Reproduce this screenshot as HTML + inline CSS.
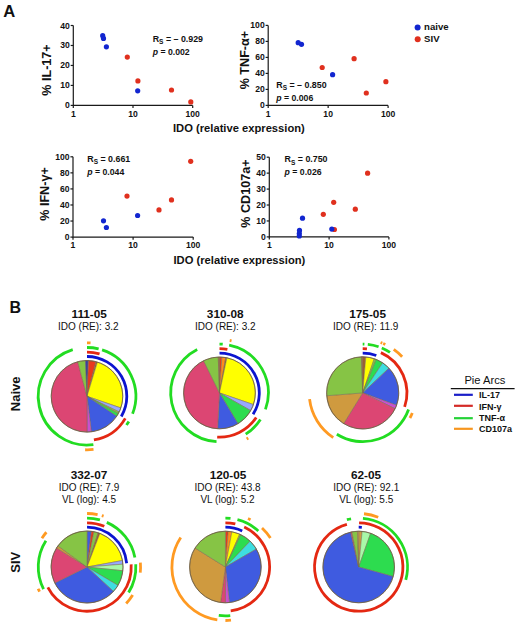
<!DOCTYPE html>
<html><head><meta charset="utf-8"><style>
html,body{margin:0;padding:0;background:#fff;}
svg{display:block;font-family:"Liberation Sans", sans-serif;}
</style></head><body>
<svg width="520" height="627" viewBox="0 0 520 627">
<rect width="520" height="627" fill="#fff"/>
<text x="3.3" y="16.8" font-size="16.6" font-weight="bold" text-anchor="start" fill="#111" >A</text>
<path d="M73.3,25.5 V105.4 H192.7" fill="none" stroke="#1a1a1a" stroke-width="1.2"/>
<line x1="70.7" y1="105.40" x2="73.3" y2="105.40" stroke="#1a1a1a" stroke-width="1.2"/>
<text x="69.8" y="108.4" font-size="8.6" font-weight="bold" text-anchor="end" fill="#111" >0</text>
<line x1="70.7" y1="85.43" x2="73.3" y2="85.43" stroke="#1a1a1a" stroke-width="1.2"/>
<text x="69.8" y="88.42500000000001" font-size="8.6" font-weight="bold" text-anchor="end" fill="#111" >10</text>
<line x1="70.7" y1="65.45" x2="73.3" y2="65.45" stroke="#1a1a1a" stroke-width="1.2"/>
<text x="69.8" y="68.45" font-size="8.6" font-weight="bold" text-anchor="end" fill="#111" >20</text>
<line x1="70.7" y1="45.48" x2="73.3" y2="45.48" stroke="#1a1a1a" stroke-width="1.2"/>
<text x="69.8" y="48.475" font-size="8.6" font-weight="bold" text-anchor="end" fill="#111" >30</text>
<line x1="70.7" y1="25.50" x2="73.3" y2="25.50" stroke="#1a1a1a" stroke-width="1.2"/>
<text x="69.8" y="28.5" font-size="8.6" font-weight="bold" text-anchor="end" fill="#111" >40</text>
<line x1="73.30" y1="105.4" x2="73.30" y2="108.0" stroke="#1a1a1a" stroke-width="1.2"/>
<text x="73.3" y="116.5" font-size="8.6" font-weight="bold" text-anchor="middle" fill="#111" >1</text>
<line x1="133.00" y1="105.4" x2="133.00" y2="108.0" stroke="#1a1a1a" stroke-width="1.2"/>
<text x="133.0" y="116.5" font-size="8.6" font-weight="bold" text-anchor="middle" fill="#111" >10</text>
<line x1="192.70" y1="105.4" x2="192.70" y2="108.0" stroke="#1a1a1a" stroke-width="1.2"/>
<text x="192.7" y="116.5" font-size="8.6" font-weight="bold" text-anchor="middle" fill="#111" >100</text>
<text x="50.6" y="70" font-size="12.6" font-weight="bold" text-anchor="middle" fill="#111" transform="rotate(-90 50.6 70)">% IL-17+</text>
<circle cx="127.3" cy="57.1" r="2.6" fill="#e0301e"/>
<circle cx="137.9" cy="80.9" r="2.6" fill="#e0301e"/>
<circle cx="171.5" cy="90" r="2.6" fill="#e0301e"/>
<circle cx="190.8" cy="101.9" r="2.6" fill="#e0301e"/>
<circle cx="102.7" cy="35.7" r="2.6" fill="#1226d0"/>
<circle cx="103.5" cy="38.4" r="2.6" fill="#1226d0"/>
<circle cx="106.4" cy="46.8" r="2.6" fill="#1226d0"/>
<circle cx="137.7" cy="90.8" r="2.6" fill="#1226d0"/>
<text x="152.7" y="41.6" font-size="8.85" font-weight="bold" fill="#111">R<tspan font-size="6.5" dy="2.2">S</tspan><tspan dy="-2.2"> = – 0.929</tspan></text>
<text x="152.7" y="54.7" font-size="8.7" font-weight="bold" fill="#111"><tspan font-style="italic">p</tspan> = 0.002</text>
<path d="M268.2,25.4 V105.4 H388.1" fill="none" stroke="#1a1a1a" stroke-width="1.2"/>
<line x1="265.59999999999997" y1="105.40" x2="268.2" y2="105.40" stroke="#1a1a1a" stroke-width="1.2"/>
<text x="264.7" y="108.4" font-size="8.6" font-weight="bold" text-anchor="end" fill="#111" >0</text>
<line x1="265.59999999999997" y1="89.40" x2="268.2" y2="89.40" stroke="#1a1a1a" stroke-width="1.2"/>
<text x="264.7" y="92.4" font-size="8.6" font-weight="bold" text-anchor="end" fill="#111" >20</text>
<line x1="265.59999999999997" y1="73.40" x2="268.2" y2="73.40" stroke="#1a1a1a" stroke-width="1.2"/>
<text x="264.7" y="76.4" font-size="8.6" font-weight="bold" text-anchor="end" fill="#111" >40</text>
<line x1="265.59999999999997" y1="57.40" x2="268.2" y2="57.40" stroke="#1a1a1a" stroke-width="1.2"/>
<text x="264.7" y="60.400000000000006" font-size="8.6" font-weight="bold" text-anchor="end" fill="#111" >60</text>
<line x1="265.59999999999997" y1="41.40" x2="268.2" y2="41.40" stroke="#1a1a1a" stroke-width="1.2"/>
<text x="264.7" y="44.400000000000006" font-size="8.6" font-weight="bold" text-anchor="end" fill="#111" >80</text>
<line x1="265.59999999999997" y1="25.40" x2="268.2" y2="25.40" stroke="#1a1a1a" stroke-width="1.2"/>
<text x="264.7" y="28.400000000000006" font-size="8.6" font-weight="bold" text-anchor="end" fill="#111" >100</text>
<line x1="268.20" y1="105.4" x2="268.20" y2="108.0" stroke="#1a1a1a" stroke-width="1.2"/>
<text x="268.2" y="116.5" font-size="8.6" font-weight="bold" text-anchor="middle" fill="#111" >1</text>
<line x1="328.15" y1="105.4" x2="328.15" y2="108.0" stroke="#1a1a1a" stroke-width="1.2"/>
<text x="328.15" y="116.5" font-size="8.6" font-weight="bold" text-anchor="middle" fill="#111" >10</text>
<line x1="388.10" y1="105.4" x2="388.10" y2="108.0" stroke="#1a1a1a" stroke-width="1.2"/>
<text x="388.1" y="116.5" font-size="8.6" font-weight="bold" text-anchor="middle" fill="#111" >100</text>
<text x="248.8" y="60.1" font-size="12.6" font-weight="bold" text-anchor="middle" fill="#111" transform="rotate(-90 248.8 60.1)">% TNF-α+</text>
<circle cx="322.2" cy="67.5" r="2.6" fill="#e0301e"/>
<circle cx="354.1" cy="58.7" r="2.6" fill="#e0301e"/>
<circle cx="385.9" cy="81.7" r="2.6" fill="#e0301e"/>
<circle cx="366.3" cy="93" r="2.6" fill="#e0301e"/>
<circle cx="298.2" cy="42.7" r="2.6" fill="#1226d0"/>
<circle cx="301.5" cy="44.3" r="2.6" fill="#1226d0"/>
<circle cx="332.6" cy="74.7" r="2.6" fill="#1226d0"/>
<text x="276.3" y="87.6" font-size="8.85" font-weight="bold" fill="#111">R<tspan font-size="6.5" dy="2.2">S</tspan><tspan dy="-2.2"> = – 0.850</tspan></text>
<text x="276.3" y="100.7" font-size="8.7" font-weight="bold" fill="#111"><tspan font-style="italic">p</tspan> = 0.006</text>
<path d="M73,156.8 V237.1 H193.2" fill="none" stroke="#1a1a1a" stroke-width="1.2"/>
<line x1="70.4" y1="237.10" x2="73" y2="237.10" stroke="#1a1a1a" stroke-width="1.2"/>
<text x="69.5" y="240.1" font-size="8.6" font-weight="bold" text-anchor="end" fill="#111" >0</text>
<line x1="70.4" y1="221.04" x2="73" y2="221.04" stroke="#1a1a1a" stroke-width="1.2"/>
<text x="69.5" y="224.04" font-size="8.6" font-weight="bold" text-anchor="end" fill="#111" >20</text>
<line x1="70.4" y1="204.98" x2="73" y2="204.98" stroke="#1a1a1a" stroke-width="1.2"/>
<text x="69.5" y="207.98000000000002" font-size="8.6" font-weight="bold" text-anchor="end" fill="#111" >40</text>
<line x1="70.4" y1="188.92" x2="73" y2="188.92" stroke="#1a1a1a" stroke-width="1.2"/>
<text x="69.5" y="191.92000000000002" font-size="8.6" font-weight="bold" text-anchor="end" fill="#111" >60</text>
<line x1="70.4" y1="172.86" x2="73" y2="172.86" stroke="#1a1a1a" stroke-width="1.2"/>
<text x="69.5" y="175.86" font-size="8.6" font-weight="bold" text-anchor="end" fill="#111" >80</text>
<line x1="70.4" y1="156.80" x2="73" y2="156.80" stroke="#1a1a1a" stroke-width="1.2"/>
<text x="69.5" y="159.8" font-size="8.6" font-weight="bold" text-anchor="end" fill="#111" >100</text>
<line x1="73.00" y1="237.1" x2="73.00" y2="239.7" stroke="#1a1a1a" stroke-width="1.2"/>
<text x="73.0" y="248.2" font-size="8.6" font-weight="bold" text-anchor="middle" fill="#111" >1</text>
<line x1="133.10" y1="237.1" x2="133.10" y2="239.7" stroke="#1a1a1a" stroke-width="1.2"/>
<text x="133.1" y="248.2" font-size="8.6" font-weight="bold" text-anchor="middle" fill="#111" >10</text>
<line x1="193.20" y1="237.1" x2="193.20" y2="239.7" stroke="#1a1a1a" stroke-width="1.2"/>
<text x="193.2" y="248.2" font-size="8.6" font-weight="bold" text-anchor="middle" fill="#111" >100</text>
<text x="49.2" y="194" font-size="12.6" font-weight="bold" text-anchor="middle" fill="#111" transform="rotate(-90 49.2 194)">% IFN-γ+</text>
<circle cx="127" cy="196.1" r="2.6" fill="#e0301e"/>
<circle cx="159" cy="209.9" r="2.6" fill="#e0301e"/>
<circle cx="171.5" cy="199.9" r="2.6" fill="#e0301e"/>
<circle cx="190.7" cy="161.3" r="2.6" fill="#e0301e"/>
<circle cx="103.5" cy="220.8" r="2.6" fill="#1226d0"/>
<circle cx="106.4" cy="227.5" r="2.6" fill="#1226d0"/>
<circle cx="137.6" cy="215.5" r="2.6" fill="#1226d0"/>
<text x="87.3" y="162.2" font-size="8.85" font-weight="bold" fill="#111">R<tspan font-size="6.5" dy="2.2">S</tspan><tspan dy="-2.2"> = 0.661</tspan></text>
<text x="87.3" y="175.3" font-size="8.7" font-weight="bold" fill="#111"><tspan font-style="italic">p</tspan> = 0.044</text>
<path d="M269.3,157.2 V236.9 H388.9" fill="none" stroke="#1a1a1a" stroke-width="1.2"/>
<line x1="266.7" y1="236.90" x2="269.3" y2="236.90" stroke="#1a1a1a" stroke-width="1.2"/>
<text x="265.8" y="239.9" font-size="8.6" font-weight="bold" text-anchor="end" fill="#111" >0</text>
<line x1="266.7" y1="220.96" x2="269.3" y2="220.96" stroke="#1a1a1a" stroke-width="1.2"/>
<text x="265.8" y="223.96" font-size="8.6" font-weight="bold" text-anchor="end" fill="#111" >10</text>
<line x1="266.7" y1="205.02" x2="269.3" y2="205.02" stroke="#1a1a1a" stroke-width="1.2"/>
<text x="265.8" y="208.02" font-size="8.6" font-weight="bold" text-anchor="end" fill="#111" >20</text>
<line x1="266.7" y1="189.08" x2="269.3" y2="189.08" stroke="#1a1a1a" stroke-width="1.2"/>
<text x="265.8" y="192.07999999999998" font-size="8.6" font-weight="bold" text-anchor="end" fill="#111" >30</text>
<line x1="266.7" y1="173.14" x2="269.3" y2="173.14" stroke="#1a1a1a" stroke-width="1.2"/>
<text x="265.8" y="176.14" font-size="8.6" font-weight="bold" text-anchor="end" fill="#111" >40</text>
<line x1="266.7" y1="157.20" x2="269.3" y2="157.20" stroke="#1a1a1a" stroke-width="1.2"/>
<text x="265.8" y="160.2" font-size="8.6" font-weight="bold" text-anchor="end" fill="#111" >50</text>
<line x1="269.30" y1="236.9" x2="269.30" y2="239.5" stroke="#1a1a1a" stroke-width="1.2"/>
<text x="269.3" y="248.0" font-size="8.6" font-weight="bold" text-anchor="middle" fill="#111" >1</text>
<line x1="329.10" y1="236.9" x2="329.10" y2="239.5" stroke="#1a1a1a" stroke-width="1.2"/>
<text x="329.1" y="248.0" font-size="8.6" font-weight="bold" text-anchor="middle" fill="#111" >10</text>
<line x1="388.90" y1="236.9" x2="388.90" y2="239.5" stroke="#1a1a1a" stroke-width="1.2"/>
<text x="388.9" y="248.0" font-size="8.6" font-weight="bold" text-anchor="middle" fill="#111" >100</text>
<text x="250.4" y="193.6" font-size="12.6" font-weight="bold" text-anchor="middle" fill="#111" transform="rotate(-90 250.4 193.6)">% CD107a+</text>
<circle cx="334.4" cy="229.5" r="2.6" fill="#e0301e"/>
<circle cx="323.3" cy="214.3" r="2.6" fill="#e0301e"/>
<circle cx="333.7" cy="202.3" r="2.6" fill="#e0301e"/>
<circle cx="355.3" cy="209.2" r="2.6" fill="#e0301e"/>
<circle cx="367.6" cy="173.2" r="2.6" fill="#e0301e"/>
<circle cx="302.5" cy="218.2" r="2.6" fill="#1226d0"/>
<circle cx="299.5" cy="230.4" r="2.6" fill="#1226d0"/>
<circle cx="299.3" cy="233.5" r="2.6" fill="#1226d0"/>
<circle cx="299.3" cy="236" r="2.6" fill="#1226d0"/>
<circle cx="331.8" cy="229.1" r="2.6" fill="#1226d0"/>
<text x="284.6" y="162.3" font-size="8.85" font-weight="bold" fill="#111">R<tspan font-size="6.5" dy="2.2">S</tspan><tspan dy="-2.2"> = 0.750</tspan></text>
<text x="284.6" y="175.4" font-size="8.7" font-weight="bold" fill="#111"><tspan font-style="italic">p</tspan> = 0.026</text>
<text x="173" y="132" font-size="11.2" font-weight="bold" text-anchor="start" fill="#111" >IDO (relative expression)</text>
<text x="173.5" y="264.2" font-size="11.2" font-weight="bold" text-anchor="start" fill="#111" >IDO (relative expression)</text>
<circle cx="417.6" cy="27.5" r="3" fill="#1226d0"/>
<circle cx="417.7" cy="39.2" r="3" fill="#e0301e"/>
<text x="424.1" y="29.5" font-size="9.6" font-weight="bold" text-anchor="start" fill="#111" >naive</text>
<text x="424.1" y="42" font-size="9.6" font-weight="bold" text-anchor="start" fill="#111" >SIV</text>
<text x="9.5" y="313" font-size="16" font-weight="bold" text-anchor="start" fill="#111" >B</text>
<path d="M87.00,396.30 L87.00,360.50 A35.8,35.8 0 0 1 88.56,360.53 Z" fill="#2030c0" stroke="#7a6a50" stroke-width="0.5" stroke-linejoin="round"/>
<path d="M87.00,396.30 L88.56,360.53 A35.8,35.8 0 0 1 95.96,361.64 Z" fill="#e8381c" stroke="#7a6a50" stroke-width="0.5" stroke-linejoin="round"/>
<path d="M87.00,396.30 L95.96,361.64 A35.8,35.8 0 0 1 97.47,362.06 Z" fill="#a06030" stroke="#7a6a50" stroke-width="0.5" stroke-linejoin="round"/>
<path d="M87.00,396.30 L97.47,362.06 A35.8,35.8 0 0 1 120.85,407.96 Z" fill="#ffff00" stroke="#7a6a50" stroke-width="0.5" stroke-linejoin="round"/>
<path d="M87.00,396.30 L120.85,407.96 A35.8,35.8 0 0 1 119.18,411.99 Z" fill="#98a8ff" stroke="#7a6a50" stroke-width="0.5" stroke-linejoin="round"/>
<path d="M87.00,396.30 L119.18,411.99 A35.8,35.8 0 0 1 118.31,413.66 Z" fill="#86c445" stroke="#7a6a50" stroke-width="0.5" stroke-linejoin="round"/>
<path d="M87.00,396.30 L118.31,413.66 A35.8,35.8 0 0 1 116.68,416.32 Z" fill="#2ddc4f" stroke="#7a6a50" stroke-width="0.5" stroke-linejoin="round"/>
<path d="M87.00,396.30 L116.68,416.32 A35.8,35.8 0 0 1 91.36,431.83 Z" fill="#3f5be0" stroke="#7a6a50" stroke-width="0.5" stroke-linejoin="round"/>
<path d="M87.00,396.30 L91.36,431.83 A35.8,35.8 0 0 1 87.00,432.10 Z" fill="#c850d0" stroke="#7a6a50" stroke-width="0.5" stroke-linejoin="round"/>
<path d="M87.00,396.30 L87.00,432.10 A35.8,35.8 0 0 1 77.73,361.72 Z" fill="#dc4673" stroke="#7a6a50" stroke-width="0.5" stroke-linejoin="round"/>
<path d="M87.00,396.30 L77.73,361.72 A35.8,35.8 0 0 1 85.44,360.53 Z" fill="#86c445" stroke="#7a6a50" stroke-width="0.5" stroke-linejoin="round"/>
<path d="M87.00,396.30 L85.44,360.53 A35.8,35.8 0 0 1 87.00,360.50 Z" fill="#2030c0" stroke="#7a6a50" stroke-width="0.5" stroke-linejoin="round"/>
<circle cx="87.0" cy="396.3" r="35.8" fill="none" stroke="#6a5a40" stroke-width="0.8"/>
<path d="M87.00,356.50 A39.8,39.8 0 0 1 121.29,416.50" fill="none" stroke="#0c14d0" stroke-width="2.8"/>
<path d="M87.00,352.10 A44.2,44.2 0 0 1 99.55,353.92" fill="none" stroke="#e42812" stroke-width="2.8"/>
<path d="M125.28,418.40 A44.2,44.2 0 0 1 93.91,439.96" fill="none" stroke="#e42812" stroke-width="2.8"/>
<path d="M87.00,347.50 A48.8,48.8 0 0 1 98.64,348.91" fill="none" stroke="#22dc22" stroke-width="2.8"/>
<path d="M102.08,349.89 A48.8,48.8 0 0 1 132.56,413.79" fill="none" stroke="#22dc22" stroke-width="2.8"/>
<path d="M128.83,421.43 A48.8,48.8 0 0 1 126.48,424.98" fill="none" stroke="#22dc22" stroke-width="2.8"/>
<path d="M93.37,444.68 A48.8,48.8 0 0 1 72.73,349.63" fill="none" stroke="#22dc22" stroke-width="2.8"/>
<path d="M87.00,342.80 A53.5,53.5 0 0 1 90.55,342.92" fill="none" stroke="#ff9a22" stroke-width="2.8"/>
<path d="M93.52,449.40 A53.5,53.5 0 0 1 85.13,449.77" fill="none" stroke="#ff9a22" stroke-width="2.8"/>
<path d="M219.50,392.90 L219.50,357.00 A35.9,35.9 0 0 1 221.88,357.08 Z" fill="#e8381c" stroke="#7a6a50" stroke-width="0.5" stroke-linejoin="round"/>
<path d="M219.50,392.90 L221.88,357.08 A35.9,35.9 0 0 1 225.73,357.55 Z" fill="#ff8c1a" stroke="#7a6a50" stroke-width="0.5" stroke-linejoin="round"/>
<path d="M219.50,392.90 L225.73,357.55 A35.9,35.9 0 0 1 226.96,357.78 Z" fill="#a06030" stroke="#7a6a50" stroke-width="0.5" stroke-linejoin="round"/>
<path d="M219.50,392.90 L226.96,357.78 A35.9,35.9 0 0 1 253.44,404.59 Z" fill="#ffff00" stroke="#7a6a50" stroke-width="0.5" stroke-linejoin="round"/>
<path d="M219.50,392.90 L253.44,404.59 A35.9,35.9 0 0 1 250.71,410.63 Z" fill="#98a8ff" stroke="#7a6a50" stroke-width="0.5" stroke-linejoin="round"/>
<path d="M219.50,392.90 L250.71,410.63 A35.9,35.9 0 0 1 237.99,423.67 Z" fill="#2ddc4f" stroke="#7a6a50" stroke-width="0.5" stroke-linejoin="round"/>
<path d="M219.50,392.90 L237.99,423.67 A35.9,35.9 0 0 1 217.62,428.75 Z" fill="#3f5be0" stroke="#7a6a50" stroke-width="0.5" stroke-linejoin="round"/>
<path d="M219.50,392.90 L217.62,428.75 A35.9,35.9 0 0 1 203.59,360.72 Z" fill="#dc4673" stroke="#7a6a50" stroke-width="0.5" stroke-linejoin="round"/>
<path d="M219.50,392.90 L203.59,360.72 A35.9,35.9 0 0 1 218.25,357.02 Z" fill="#86c445" stroke="#7a6a50" stroke-width="0.5" stroke-linejoin="round"/>
<path d="M219.50,392.90 L218.25,357.02 A35.9,35.9 0 0 1 219.50,357.00 Z" fill="#a06030" stroke="#7a6a50" stroke-width="0.5" stroke-linejoin="round"/>
<circle cx="219.5" cy="392.9" r="35.9" fill="none" stroke="#6a5a40" stroke-width="0.8"/>
<path d="M219.50,353.10 A39.8,39.8 0 0 1 253.07,414.28" fill="none" stroke="#0c14d0" stroke-width="2.8"/>
<path d="M219.50,348.70 A44.2,44.2 0 0 1 227.40,349.41" fill="none" stroke="#e42812" stroke-width="2.8"/>
<path d="M256.23,417.49 A44.2,44.2 0 0 1 217.19,437.04" fill="none" stroke="#e42812" stroke-width="2.8"/>
<path d="M219.50,344.10 A48.8,48.8 0 0 1 222.73,344.21" fill="none" stroke="#22dc22" stroke-width="2.8"/>
<path d="M229.15,345.06 A48.8,48.8 0 0 1 265.44,409.35" fill="none" stroke="#22dc22" stroke-width="2.8"/>
<path d="M260.43,419.48 A48.8,48.8 0 0 1 245.72,434.06" fill="none" stroke="#22dc22" stroke-width="2.8"/>
<path d="M216.52,441.61 A48.8,48.8 0 0 1 197.19,349.50" fill="none" stroke="#22dc22" stroke-width="2.8"/>
<path d="M229.71,340.38 A53.5,53.5 0 0 1 231.53,340.77" fill="none" stroke="#ff9a22" stroke-width="2.8"/>
<path d="M248.25,438.02 A53.5,53.5 0 0 1 246.65,439.00" fill="none" stroke="#ff9a22" stroke-width="2.8"/>
<path d="M362.70,392.90 L362.70,356.80 A36.1,36.1 0 0 1 365.85,356.94 Z" fill="#a06030" stroke="#7a6a50" stroke-width="0.5" stroke-linejoin="round"/>
<path d="M362.70,392.90 L365.85,356.94 A36.1,36.1 0 0 1 374.27,358.71 Z" fill="#ffff00" stroke="#7a6a50" stroke-width="0.5" stroke-linejoin="round"/>
<path d="M362.70,392.90 L374.27,358.71 A36.1,36.1 0 0 1 376.22,359.43 Z" fill="#86c445" stroke="#7a6a50" stroke-width="0.5" stroke-linejoin="round"/>
<path d="M362.70,392.90 L376.22,359.43 A36.1,36.1 0 0 1 382.68,362.83 Z" fill="#2ddc4f" stroke="#7a6a50" stroke-width="0.5" stroke-linejoin="round"/>
<path d="M362.70,392.90 L382.68,362.83 A36.1,36.1 0 0 1 388.97,368.14 Z" fill="#3ddde0" stroke="#7a6a50" stroke-width="0.5" stroke-linejoin="round"/>
<path d="M362.70,392.90 L388.97,368.14 A36.1,36.1 0 0 1 396.62,405.25 Z" fill="#3f5be0" stroke="#7a6a50" stroke-width="0.5" stroke-linejoin="round"/>
<path d="M362.70,392.90 L396.62,405.25 A36.1,36.1 0 0 1 395.15,408.73 Z" fill="#c850d0" stroke="#7a6a50" stroke-width="0.5" stroke-linejoin="round"/>
<path d="M362.70,392.90 L395.15,408.73 A36.1,36.1 0 0 1 343.68,423.58 Z" fill="#dc4673" stroke="#7a6a50" stroke-width="0.5" stroke-linejoin="round"/>
<path d="M362.70,392.90 L343.68,423.58 A36.1,36.1 0 0 1 326.71,395.73 Z" fill="#cf9a3f" stroke="#7a6a50" stroke-width="0.5" stroke-linejoin="round"/>
<path d="M362.70,392.90 L326.71,395.73 A36.1,36.1 0 0 1 361.44,356.82 Z" fill="#86c445" stroke="#7a6a50" stroke-width="0.5" stroke-linejoin="round"/>
<path d="M362.70,392.90 L361.44,356.82 A36.1,36.1 0 0 1 362.70,356.80 Z" fill="#a06030" stroke="#7a6a50" stroke-width="0.5" stroke-linejoin="round"/>
<circle cx="362.7" cy="392.9" r="36.1" fill="none" stroke="#6a5a40" stroke-width="0.8"/>
<path d="M362.70,353.10 A39.8,39.8 0 0 1 376.31,355.50" fill="none" stroke="#0c14d0" stroke-width="2.8"/>
<path d="M362.70,348.70 A44.2,44.2 0 0 1 366.94,348.90" fill="none" stroke="#e42812" stroke-width="2.8"/>
<path d="M380.89,352.62 A44.2,44.2 0 0 1 404.64,406.85" fill="none" stroke="#e42812" stroke-width="2.8"/>
<path d="M362.70,344.10 A48.8,48.8 0 0 1 364.40,344.13" fill="none" stroke="#22dc22" stroke-width="2.8"/>
<path d="M367.80,344.37 A48.8,48.8 0 0 1 378.59,346.76" fill="none" stroke="#22dc22" stroke-width="2.8"/>
<path d="M381.77,347.98 A48.8,48.8 0 0 1 389.99,352.44" fill="none" stroke="#22dc22" stroke-width="2.8"/>
<path d="M408.56,409.59 A48.8,48.8 0 0 1 336.84,434.28" fill="none" stroke="#22dc22" stroke-width="2.8"/>
<path d="M380.56,342.47 A53.5,53.5 0 0 1 382.31,343.12" fill="none" stroke="#ff9a22" stroke-width="2.8"/>
<path d="M383.17,343.47 A53.5,53.5 0 0 1 385.31,344.41" fill="none" stroke="#ff9a22" stroke-width="2.8"/>
<path d="M393.77,349.34 A53.5,53.5 0 0 1 402.14,356.76" fill="none" stroke="#ff9a22" stroke-width="2.8"/>
<path d="M412.30,412.94 A53.5,53.5 0 0 1 409.94,418.02" fill="none" stroke="#ff9a22" stroke-width="2.8"/>
<path d="M333.25,437.56 A53.5,53.5 0 0 1 309.57,399.14" fill="none" stroke="#ff9a22" stroke-width="2.8"/>
<path d="M87.05,567.00 L87.05,531.00 A36,36 0 0 1 91.44,531.27 Z" fill="#3f5be0" stroke="#7a6a50" stroke-width="0.5" stroke-linejoin="round"/>
<path d="M87.05,567.00 L91.44,531.27 A36,36 0 0 1 93.92,531.66 Z" fill="#e8381c" stroke="#7a6a50" stroke-width="0.5" stroke-linejoin="round"/>
<path d="M87.05,567.00 L93.92,531.66 A36,36 0 0 1 98.17,532.76 Z" fill="#86c445" stroke="#7a6a50" stroke-width="0.5" stroke-linejoin="round"/>
<path d="M87.05,567.00 L98.17,532.76 A36,36 0 0 1 99.95,533.39 Z" fill="#a06030" stroke="#7a6a50" stroke-width="0.5" stroke-linejoin="round"/>
<path d="M87.05,567.00 L99.95,533.39 A36,36 0 0 1 122.46,560.50 Z" fill="#ffff00" stroke="#7a6a50" stroke-width="0.5" stroke-linejoin="round"/>
<path d="M87.05,567.00 L122.46,560.50 A36,36 0 0 1 122.94,564.18 Z" fill="#98a8ff" stroke="#7a6a50" stroke-width="0.5" stroke-linejoin="round"/>
<path d="M87.05,567.00 L122.94,564.18 A36,36 0 0 1 122.85,570.76 Z" fill="#a8f8a8" stroke="#7a6a50" stroke-width="0.5" stroke-linejoin="round"/>
<path d="M87.05,567.00 L122.85,570.76 A36,36 0 0 1 118.00,585.38 Z" fill="#2ddc4f" stroke="#7a6a50" stroke-width="0.5" stroke-linejoin="round"/>
<path d="M87.05,567.00 L118.00,585.38 A36,36 0 0 1 113.46,591.46 Z" fill="#3ddde0" stroke="#7a6a50" stroke-width="0.5" stroke-linejoin="round"/>
<path d="M87.05,567.00 L113.46,591.46 A36,36 0 0 1 54.75,582.89 Z" fill="#3f5be0" stroke="#7a6a50" stroke-width="0.5" stroke-linejoin="round"/>
<path d="M87.05,567.00 L54.83,583.06 A36,36 0 0 1 56.52,547.92 Z" fill="#dc4673" stroke="#7a6a50" stroke-width="0.5" stroke-linejoin="round"/>
<path d="M87.05,567.00 L56.52,547.92 A36,36 0 0 1 57.93,545.84 Z" fill="#cf9a3f" stroke="#7a6a50" stroke-width="0.5" stroke-linejoin="round"/>
<path d="M87.05,567.00 L57.93,545.84 A36,36 0 0 1 87.05,531.00 Z" fill="#86c445" stroke="#7a6a50" stroke-width="0.5" stroke-linejoin="round"/>
<circle cx="87.05" cy="567" r="36" fill="none" stroke="#6a5a40" stroke-width="0.8"/>
<path d="M87.05,527.20 A39.8,39.8 0 0 1 126.67,563.25" fill="none" stroke="#0c14d0" stroke-width="2.8"/>
<path d="M87.05,522.80 A44.2,44.2 0 0 1 104.32,526.31" fill="none" stroke="#e42812" stroke-width="2.8"/>
<path d="M131.17,564.38 A44.2,44.2 0 0 1 47.84,587.41" fill="none" stroke="#e42812" stroke-width="2.8"/>
<path d="M87.05,518.20 A48.8,48.8 0 0 1 99.93,519.93" fill="none" stroke="#22dc22" stroke-width="2.8"/>
<path d="M106.82,522.38 A48.8,48.8 0 0 1 134.90,557.44" fill="none" stroke="#22dc22" stroke-width="2.8"/>
<path d="M135.77,564.28 A48.8,48.8 0 0 1 128.61,592.57" fill="none" stroke="#22dc22" stroke-width="2.8"/>
<path d="M43.57,589.15 A48.8,48.8 0 0 1 45.89,540.78" fill="none" stroke="#22dc22" stroke-width="2.8"/>
<path d="M87.05,513.50 A53.5,53.5 0 0 1 97.62,514.56" fill="none" stroke="#ff9a22" stroke-width="2.8"/>
<path d="M101.80,515.57 A53.5,53.5 0 0 1 103.58,516.12" fill="none" stroke="#ff9a22" stroke-width="2.8"/>
<path d="M140.37,562.62 A53.5,53.5 0 0 1 140.25,572.69" fill="none" stroke="#ff9a22" stroke-width="2.8"/>
<path d="M132.67,594.95 A53.5,53.5 0 0 1 126.18,603.49" fill="none" stroke="#ff9a22" stroke-width="2.8"/>
<path d="M39.59,591.70 A53.5,53.5 0 0 1 38.18,588.76" fill="none" stroke="#ff9a22" stroke-width="2.8"/>
<path d="M41.93,538.25 A53.5,53.5 0 0 1 46.37,532.25" fill="none" stroke="#ff9a22" stroke-width="2.8"/>
<path d="M225.40,567.00 L225.40,531.20 A35.8,35.8 0 0 1 228.21,531.31 Z" fill="#e8381c" stroke="#7a6a50" stroke-width="0.5" stroke-linejoin="round"/>
<path d="M225.40,567.00 L228.21,531.31 A35.8,35.8 0 0 1 231.92,531.80 Z" fill="#ff8c1a" stroke="#7a6a50" stroke-width="0.5" stroke-linejoin="round"/>
<path d="M225.40,567.00 L231.92,531.80 A35.8,35.8 0 0 1 239.68,534.17 Z" fill="#ffff00" stroke="#7a6a50" stroke-width="0.5" stroke-linejoin="round"/>
<path d="M225.40,567.00 L239.68,534.17 A35.8,35.8 0 0 1 240.81,534.69 Z" fill="#86c445" stroke="#7a6a50" stroke-width="0.5" stroke-linejoin="round"/>
<path d="M225.40,567.00 L240.81,534.69 A35.8,35.8 0 0 1 250.18,541.16 Z" fill="#2ddc4f" stroke="#7a6a50" stroke-width="0.5" stroke-linejoin="round"/>
<path d="M225.40,567.00 L250.18,541.16 A35.8,35.8 0 0 1 256.37,549.05 Z" fill="#3ddde0" stroke="#7a6a50" stroke-width="0.5" stroke-linejoin="round"/>
<path d="M225.40,567.00 L256.37,549.05 A35.8,35.8 0 0 1 229.45,602.57 Z" fill="#3f5be0" stroke="#7a6a50" stroke-width="0.5" stroke-linejoin="round"/>
<path d="M225.40,567.00 L229.45,602.57 A35.8,35.8 0 0 1 225.40,602.80 Z" fill="#c850d0" stroke="#7a6a50" stroke-width="0.5" stroke-linejoin="round"/>
<path d="M225.40,567.00 L225.40,602.80 A35.8,35.8 0 0 1 220.54,602.47 Z" fill="#dc4673" stroke="#7a6a50" stroke-width="0.5" stroke-linejoin="round"/>
<path d="M225.40,567.00 L220.54,602.47 A35.8,35.8 0 0 1 195.04,548.03 Z" fill="#cf9a3f" stroke="#7a6a50" stroke-width="0.5" stroke-linejoin="round"/>
<path d="M225.40,567.00 L195.04,548.03 A35.8,35.8 0 0 1 225.40,531.20 Z" fill="#86c445" stroke="#7a6a50" stroke-width="0.5" stroke-linejoin="round"/>
<circle cx="225.4" cy="567" r="35.8" fill="none" stroke="#6a5a40" stroke-width="0.8"/>
<path d="M225.40,527.20 A39.8,39.8 0 0 1 242.22,530.93" fill="none" stroke="#0c14d0" stroke-width="2.8"/>
<path d="M225.40,522.80 A44.2,44.2 0 0 1 235.34,523.93" fill="none" stroke="#e42812" stroke-width="2.8"/>
<path d="M244.22,527.01 A44.2,44.2 0 0 1 230.71,610.88" fill="none" stroke="#e42812" stroke-width="2.8"/>
<path d="M225.40,518.20 A48.8,48.8 0 0 1 230.50,518.47" fill="none" stroke="#22dc22" stroke-width="2.8"/>
<path d="M237.45,519.71 A48.8,48.8 0 0 1 258.31,530.96" fill="none" stroke="#22dc22" stroke-width="2.8"/>
<path d="M230.25,615.56 A48.8,48.8 0 0 1 218.78,615.35" fill="none" stroke="#22dc22" stroke-width="2.8"/>
<path d="M248.01,518.51 A53.5,53.5 0 0 1 250.52,519.76" fill="none" stroke="#ff9a22" stroke-width="2.8"/>
<path d="M262.02,528.00 A53.5,53.5 0 0 1 270.42,538.10" fill="none" stroke="#ff9a22" stroke-width="2.8"/>
<path d="M230.99,620.21 A53.5,53.5 0 0 1 225.40,620.50" fill="none" stroke="#ff9a22" stroke-width="2.8"/>
<path d="M217.31,619.88 A53.5,53.5 0 0 1 180.74,537.55" fill="none" stroke="#ff9a22" stroke-width="2.8"/>
<path d="M358.70,567.00 L358.70,531.20 A35.8,35.8 0 0 1 362.13,531.36 Z" fill="#cf9a3f" stroke="#7a6a50" stroke-width="0.5" stroke-linejoin="round"/>
<path d="M358.70,567.00 L362.13,531.36 A35.8,35.8 0 0 1 370.65,533.25 Z" fill="#a8f8a8" stroke="#7a6a50" stroke-width="0.5" stroke-linejoin="round"/>
<path d="M358.70,567.00 L370.65,533.25 A35.8,35.8 0 0 1 393.20,576.57 Z" fill="#2ddc4f" stroke="#7a6a50" stroke-width="0.5" stroke-linejoin="round"/>
<path d="M358.70,567.00 L393.20,576.57 A35.8,35.8 0 1 1 350.65,532.12 Z" fill="#3f5be0" stroke="#7a6a50" stroke-width="0.5" stroke-linejoin="round"/>
<path d="M358.70,567.00 L350.65,532.12 A35.8,35.8 0 0 1 351.87,531.86 Z" fill="#dc4673" stroke="#7a6a50" stroke-width="0.5" stroke-linejoin="round"/>
<path d="M358.70,567.00 L351.87,531.86 A35.8,35.8 0 0 1 357.45,531.22 Z" fill="#86c445" stroke="#7a6a50" stroke-width="0.5" stroke-linejoin="round"/>
<path d="M358.70,567.00 L357.45,531.22 A35.8,35.8 0 0 1 358.70,531.20 Z" fill="#cf9a3f" stroke="#7a6a50" stroke-width="0.5" stroke-linejoin="round"/>
<circle cx="358.7" cy="567" r="35.8" fill="none" stroke="#6a5a40" stroke-width="0.8"/>
<path d="M358.70,527.20 A39.8,39.8 0 0 1 361.82,527.32" fill="none" stroke="#0c14d0" stroke-width="2.8"/>
<path d="M359.09,522.80 A44.2,44.2 0 1 1 346.89,524.41" fill="none" stroke="#e42812" stroke-width="2.8"/>
<path d="M346.89,519.65 A48.8,48.8 0 0 1 351.07,518.80" fill="none" stroke="#22dc22" stroke-width="2.8"/>
<path d="M362.95,518.39 A48.8,48.8 0 0 1 405.79,579.79" fill="none" stroke="#22dc22" stroke-width="2.8"/>
<path d="M364.01,513.76 A53.5,53.5 0 0 1 378.22,517.19" fill="none" stroke="#ff9a22" stroke-width="2.8"/>
<text x="89.2" y="317.6" font-size="11.8" font-weight="bold" text-anchor="middle" fill="#111" >111-05</text>
<text x="88.3" y="330.1" font-size="10" font-weight="normal" text-anchor="middle" fill="#111" >IDO (RE): 3.2</text>
<text x="225.2" y="317.6" font-size="11.8" font-weight="bold" text-anchor="middle" fill="#111" >310-08</text>
<text x="225.3" y="330.1" font-size="10" font-weight="normal" text-anchor="middle" fill="#111" >IDO (RE): 3.2</text>
<text x="367.6" y="317.6" font-size="11.8" font-weight="bold" text-anchor="middle" fill="#111" >175-05</text>
<text x="365.6" y="330.1" font-size="10" font-weight="normal" text-anchor="middle" fill="#111" >IDO (RE): 11.9</text>
<text x="89" y="478.5" font-size="11.8" font-weight="bold" text-anchor="middle" fill="#111" >332-07</text>
<text x="89" y="491.0" font-size="10" font-weight="normal" text-anchor="middle" fill="#111" >IDO (RE): 7.9</text>
<text x="89" y="502.8" font-size="10" font-weight="normal" text-anchor="middle" fill="#111" >VL (log): 4.5</text>
<text x="228" y="478.5" font-size="11.8" font-weight="bold" text-anchor="middle" fill="#111" >120-05</text>
<text x="227.5" y="491.0" font-size="10" font-weight="normal" text-anchor="middle" fill="#111" >IDO (RE): 43.8</text>
<text x="227.5" y="502.8" font-size="10" font-weight="normal" text-anchor="middle" fill="#111" >VL (log): 5.2</text>
<text x="366" y="478.5" font-size="11.8" font-weight="bold" text-anchor="middle" fill="#111" >62-05</text>
<text x="366.2" y="491.0" font-size="10" font-weight="normal" text-anchor="middle" fill="#111" >IDO (RE): 92.1</text>
<text x="366.2" y="502.8" font-size="10" font-weight="normal" text-anchor="middle" fill="#111" >VL (log): 5.5</text>
<text x="20.4" y="393.8" font-size="13" font-weight="bold" text-anchor="middle" fill="#111" transform="rotate(-90 20.4 393.8)">Naive</text>
<text x="20.4" y="562.2" font-size="13" font-weight="bold" text-anchor="middle" fill="#111" transform="rotate(-90 20.4 562.2)">SIV</text>
<text x="484.9" y="383.8" font-size="11.2" font-weight="normal" text-anchor="middle" fill="#111" >Pie Arcs</text>
<line x1="450.8" y1="388.7" x2="514.6" y2="388.7" stroke="#111" stroke-width="1.3"/>
<line x1="454" y1="394.8" x2="472.8" y2="394.8" stroke="#1a1ec8" stroke-width="2.2"/>
<text x="479" y="398.4" font-size="9" font-weight="bold" text-anchor="start" fill="#111" >IL-17</text>
<line x1="454" y1="405.8" x2="472.8" y2="405.8" stroke="#d42a26" stroke-width="2.2"/>
<text x="479" y="409.5" font-size="9" font-weight="bold" text-anchor="start" fill="#111" >IFN-γ</text>
<line x1="454" y1="418.2" x2="472.8" y2="418.2" stroke="#24d236" stroke-width="2.2"/>
<text x="479" y="420.7" font-size="9" font-weight="bold" text-anchor="start" fill="#111" >TNF-α</text>
<line x1="454" y1="428.8" x2="472.8" y2="428.8" stroke="#f7961f" stroke-width="2.2"/>
<text x="479" y="431.8" font-size="9" font-weight="bold" text-anchor="start" fill="#111" >CD107a</text>
</svg>
</body></html>
